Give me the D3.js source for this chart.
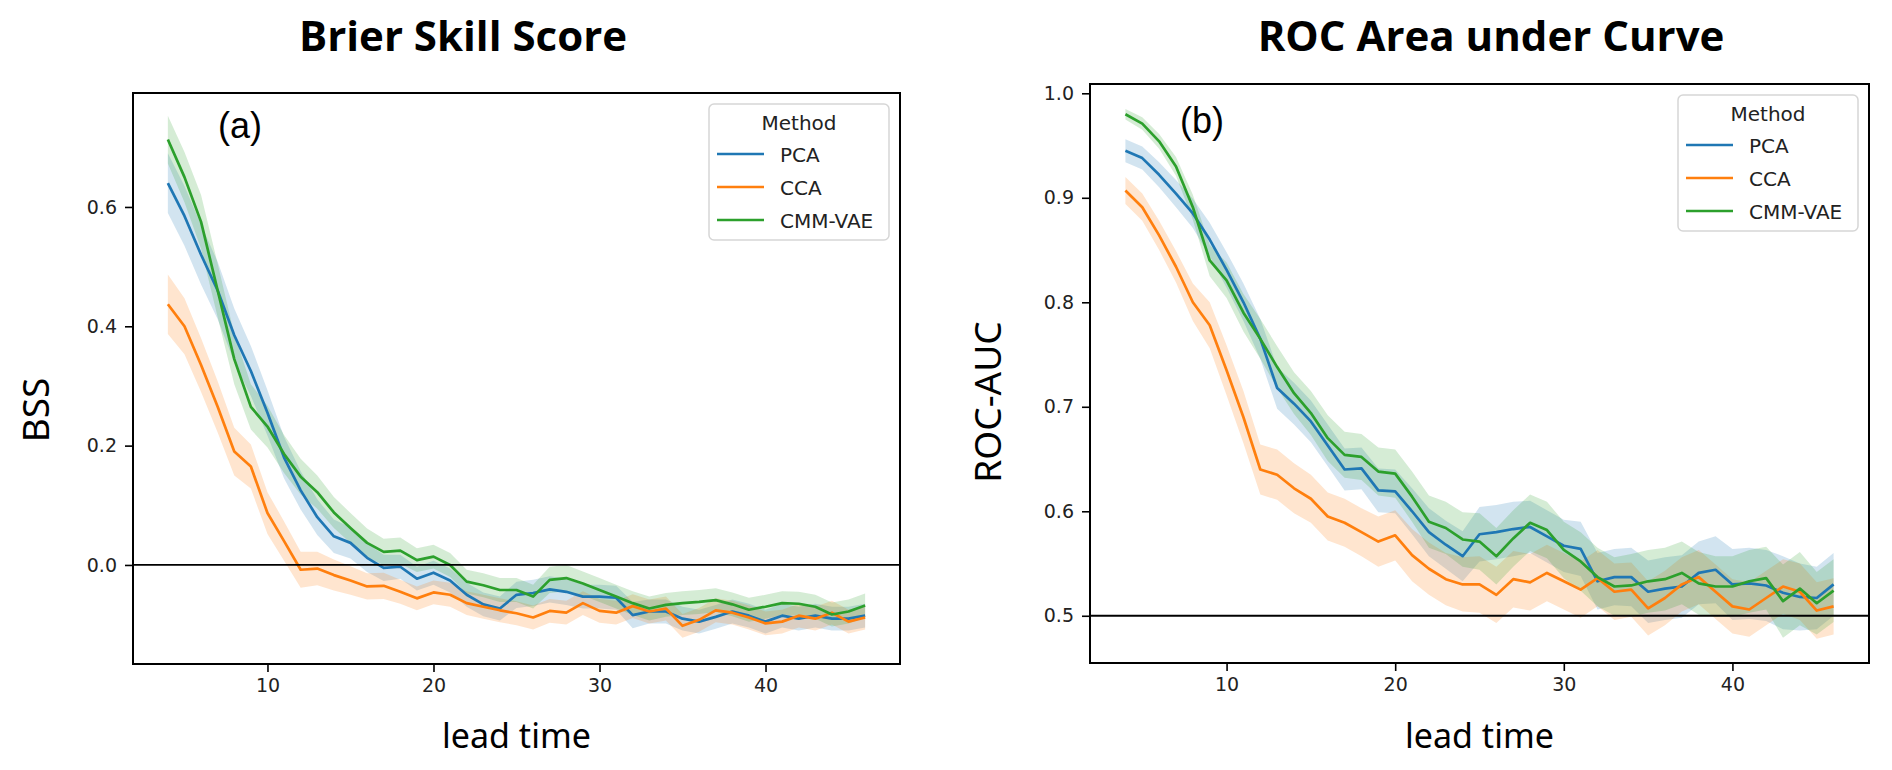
<!DOCTYPE html>
<html>
<head>
<meta charset="utf-8">
<script src="https://cdn.jsdelivr.net/npm/d3@7"></script>
<style>
  body { margin: 0; background: #fff; }
  svg { display: block; }
</style>
</head>
<body>
<div id="wrapper"></div>
<script>
// lead times (x categories)
const leadTimes = [4, 5, 6, 7, 8, 9, 10, 11, 12, 13, 14, 15, 16, 17, 18, 19, 20, 21, 22, 23, 24, 25,
  26, 27, 28, 29, 30, 31, 32, 33, 34, 35, 36, 37, 38, 39, 40, 41, 42, 43, 44, 45, 46];

const methods = ["PCA", "CCA", "CMM-VAE"];

// Brier skill score, mean per method
const bssPca = [0.64, 0.585, 0.52, 0.46, 0.385, 0.325, 0.255,
  0.18, 0.125, 0.08, 0.048, 0.037, 0.012, -0.005, -0.003, -0.023, -0.013,
  -0.026, -0.05, -0.066, -0.073, -0.05, -0.047, -0.041, -0.045, -0.053, -0.053,
  -0.055, -0.084, -0.078, -0.078, -0.09, -0.095, -0.087, -0.078, -0.085, -0.095,
  -0.085, -0.09, -0.085, -0.09, -0.09, -0.085];
const bssCca = [0.437, 0.40, 0.335, 0.265, 0.19, 0.165, 0.087,
  0.04, -0.008, -0.006, -0.017, -0.026, -0.036, -0.035, -0.045, -0.056, -0.046,
  -0.05, -0.064, -0.07, -0.076, -0.081, -0.088, -0.077, -0.08, -0.064, -0.077,
  -0.08, -0.069, -0.078, -0.073, -0.102, -0.092, -0.076, -0.08, -0.088, -0.098,
  -0.095, -0.085, -0.09, -0.08, -0.095, -0.088];
const bssVae = [0.713, 0.65, 0.575, 0.46, 0.345, 0.265, 0.232,
  0.186, 0.148, 0.122, 0.088, 0.062, 0.037, 0.022, 0.024, 0.008, 0.014,
  0.0, -0.028, -0.034, -0.042, -0.042, -0.053, -0.025, -0.022, -0.031, -0.042,
  -0.053, -0.064, -0.073, -0.067, -0.064, -0.062, -0.059, -0.066, -0.075, -0.07,
  -0.064, -0.065, -0.07, -0.083, -0.078, -0.068];

// BSS confidence band half widths
const bssPcaSpread = [0.05, 0.05, 0.05, 0.048, 0.045, 0.042, 0.038,
  0.035, 0.032, 0.03, 0.028, 0.026, 0.024, 0.022, 0.02, 0.02, 0.02,
  0.02, 0.02, 0.02, 0.02, 0.022, 0.022, 0.022, 0.022, 0.02, 0.02,
  0.02, 0.022, 0.02, 0.02, 0.02, 0.02, 0.02, 0.02, 0.02, 0.02,
  0.02, 0.02, 0.02, 0.02, 0.02, 0.02];
const bssCcaSpread = [0.05, 0.047, 0.045, 0.043, 0.04, 0.037, 0.035,
  0.033, 0.03, 0.028, 0.026, 0.024, 0.022, 0.022, 0.02, 0.02, 0.02,
  0.02, 0.02, 0.02, 0.02, 0.02, 0.02, 0.02, 0.02, 0.02, 0.02,
  0.02, 0.02, 0.02, 0.02, 0.02, 0.02, 0.02, 0.02, 0.02, 0.02,
  0.02, 0.02, 0.02, 0.02, 0.02, 0.02];
const bssVaeSpread = [0.04, 0.042, 0.045, 0.045, 0.042, 0.038, 0.035,
  0.032, 0.03, 0.028, 0.026, 0.025, 0.024, 0.022, 0.022, 0.02, 0.02,
  0.02, 0.02, 0.02, 0.02, 0.02, 0.02, 0.022, 0.022, 0.02, 0.02,
  0.02, 0.02, 0.02, 0.02, 0.02, 0.02, 0.02, 0.02, 0.02, 0.02,
  0.02, 0.02, 0.02, 0.02, 0.02, 0.02];

// ROC area under curve, mean per method
const rocPca = [0.945, 0.938, 0.922, 0.904, 0.885, 0.86, 0.831,
  0.80, 0.765, 0.718, 0.703, 0.686, 0.663, 0.64, 0.641, 0.62, 0.619,
  0.60, 0.58, 0.568, 0.557, 0.578, 0.58, 0.583, 0.585, 0.576, 0.567,
  0.564, 0.533, 0.537, 0.537, 0.523, 0.526, 0.528, 0.541, 0.544, 0.530,
  0.531, 0.529, 0.522, 0.518, 0.517, 0.530];
const rocCca = [0.907, 0.891, 0.864, 0.834, 0.80, 0.778, 0.735,
  0.69, 0.64, 0.635, 0.622, 0.612, 0.595, 0.589, 0.58, 0.571, 0.577,
  0.558, 0.545, 0.535, 0.53, 0.53, 0.52, 0.535, 0.532, 0.541, 0.533,
  0.525, 0.536, 0.523, 0.525, 0.507, 0.517, 0.53, 0.537, 0.523, 0.509,
  0.506, 0.517, 0.528, 0.523, 0.505, 0.509];
const rocVae = [0.98, 0.971, 0.954, 0.93, 0.891, 0.84, 0.821,
  0.79, 0.765, 0.738, 0.713, 0.694, 0.67, 0.654, 0.652, 0.638, 0.636,
  0.614, 0.59, 0.584, 0.573, 0.571, 0.557, 0.574, 0.589, 0.582, 0.563,
  0.552, 0.537, 0.528, 0.529, 0.533, 0.535, 0.541, 0.531, 0.528, 0.528,
  0.533, 0.536, 0.514, 0.526, 0.512, 0.524];

// ROC confidence band half widths
const rocPcaSpread = [0.011, 0.011, 0.012, 0.013, 0.014, 0.016, 0.017,
  0.018, 0.019, 0.02, 0.02, 0.02, 0.02, 0.02, 0.02, 0.021, 0.021,
  0.022, 0.023, 0.023, 0.024, 0.026, 0.026, 0.026, 0.025, 0.025, 0.025,
  0.026, 0.027, 0.027, 0.028, 0.03, 0.03, 0.03, 0.03, 0.032, 0.034,
  0.034, 0.034, 0.035, 0.032, 0.03, 0.03];
const rocCcaSpread = [0.013, 0.013, 0.014, 0.015, 0.018, 0.022, 0.024,
  0.025, 0.024, 0.024, 0.024, 0.023, 0.023, 0.023, 0.023, 0.024, 0.024,
  0.025, 0.025, 0.025, 0.026, 0.027, 0.027, 0.027, 0.027, 0.027, 0.027,
  0.027, 0.027, 0.027, 0.026, 0.026, 0.026, 0.026, 0.026, 0.026, 0.026,
  0.026, 0.026, 0.026, 0.027, 0.027, 0.027];
const rocVaeSpread = [0.005, 0.006, 0.007, 0.009, 0.012, 0.015, 0.017,
  0.018, 0.019, 0.02, 0.02, 0.021, 0.022, 0.022, 0.022, 0.023, 0.023,
  0.024, 0.025, 0.025, 0.026, 0.027, 0.027, 0.027, 0.027, 0.027, 0.027,
  0.028, 0.028, 0.028, 0.03, 0.03, 0.03, 0.03, 0.03, 0.029, 0.029,
  0.03, 0.03, 0.035, 0.035, 0.03, 0.03];

const bssTicks = [0.0, 0.2, 0.4, 0.6];
const rocTicks = [0.5, 0.6, 0.7, 0.8, 0.9, 1.0];
const xTicks = [10, 20, 30, 40];

const colors = ["#1f77b4", "#ff7f0e", "#2ca02c"];

const svg = d3.select("#wrapper").append("svg")
  .attr("width", 1892)
  .attr("height", 770);

svg.append("rect").attr("width", 1892).attr("height", 770).attr("fill", "#fff");

function buildPanel(opts) {
  const x = d3.scaleLinear().domain([1.9, 48.1]).range([opts.left, opts.right]);
  const y = d3.scaleLinear().domain(opts.yDomain).range([opts.bottom, opts.top]);

  const g = svg.append("g");

  // bands first, then lines
  opts.series.forEach((s, i) => {
    const rows = leadTimes.map((t, j) => ({ t, v: s.values[j], e: s.spread[j] }));
    g.append("path")
      .datum(rows)
      .attr("fill", colors[i])
      .attr("fill-opacity", 0.2)
      .attr("d", d3.area()
        .x(d => x(d.t))
        .y0(d => y(d.v - d.e))
        .y1(d => y(d.v + d.e)));
  });

  opts.series.forEach((s, i) => {
    const rows = leadTimes.map((t, j) => ({ t, v: s.values[j] }));
    g.append("path")
      .datum(rows)
      .attr("fill", "none")
      .attr("stroke", colors[i])
      .attr("stroke-width", 2.7)
      .attr("stroke-linejoin", "round")
      .attr("d", d3.line().x(d => x(d.t)).y(d => y(d.v)));
  });

  // reference line
  g.append("line")
    .attr("x1", opts.left).attr("x2", opts.right)
    .attr("y1", y(opts.refLine)).attr("y2", y(opts.refLine))
    .attr("stroke", "#000")
    .attr("stroke-width", 1.8);

  // axes
  const xAxis = g.append("g")
    .attr("transform", `translate(0,${opts.bottom})`)
    .call(d3.axisBottom(x).tickValues(xTicks).tickFormat(d3.format("d")).tickSize(8).tickPadding(7));
  const yAxis = g.append("g")
    .attr("transform", `translate(${opts.left},0)`)
    .call(d3.axisLeft(y).tickValues(opts.yTicks).tickFormat(d3.format(".1f")).tickSize(8).tickPadding(8));

  [xAxis, yAxis].forEach(a => {
    a.select(".domain").remove();
    a.selectAll("line").attr("stroke", "#000").attr("stroke-width", 1.6);
    a.selectAll("text")
      .attr("fill", "#222")
      .style("font-family", "DejaVu Sans")
      .style("font-size", "19px");
  });

  // frame
  g.append("rect")
    .attr("x", opts.left).attr("y", opts.top)
    .attr("width", opts.right - opts.left)
    .attr("height", opts.bottom - opts.top)
    .attr("fill", "none")
    .attr("stroke", "#000")
    .attr("stroke-width", 2);

  // panel letter
  g.append("text")
    .attr("x", opts.letterX).attr("y", opts.letterY)
    .attr("text-anchor", "middle")
    .style("font-family", "Liberation Sans")
    .style("font-size", "36px")
    .text(opts.letter);

  // legend
  const lg = g.append("g")
    .attr("transform", `translate(${opts.right - 11 - 180},${opts.top + 11})`);
  lg.append("rect")
    .attr("width", 180).attr("height", 136)
    .attr("rx", 5)
    .attr("fill", "#fff").attr("fill-opacity", 0.8)
    .attr("stroke", "#d6d6d6").attr("stroke-width", 1.5);
  lg.append("text")
    .attr("x", 90).attr("y", 26)
    .attr("text-anchor", "middle")
    .attr("fill", "#222")
    .style("font-family", "DejaVu Sans")
    .style("font-size", "20px")
    .text("Method");
  methods.forEach((m, i) => {
    const yy = 50 + i * 33;
    lg.append("line")
      .attr("x1", 8).attr("x2", 55)
      .attr("y1", yy).attr("y2", yy)
      .attr("stroke", colors[i]).attr("stroke-width", 2.7);
    lg.append("text")
      .attr("x", 71).attr("y", yy + 8)
      .attr("fill", "#222")
      .style("font-family", "DejaVu Sans")
      .style("font-size", "20px")
      .text(m);
  });

  // titles and labels
  svg.append("text")
    .attr("x", opts.titleX).attr("y", 51)
    .attr("text-anchor", "middle")
    .style("font-family", "Open Sans")
    .style("font-weight", "bold")
    .style("font-size", "42px")
    .text(opts.title);

  svg.append("text")
    .attr("x", (opts.left + opts.right) / 2).attr("y", 748)
    .attr("text-anchor", "middle")
    .style("font-family", "Noto Sans")
    .style("font-size", "34px")
    .text("lead time");

  svg.append("text")
    .attr("transform", `translate(${opts.yLabelX},${opts.yLabelY}) rotate(-90)`)
    .attr("text-anchor", "middle")
    .style("font-family", "Noto Sans")
    .style("font-size", "37px")
    .text(opts.yLabel);
}

buildPanel({
  left: 133, right: 900, top: 93, bottom: 664,
  yDomain: [-0.166, 0.791],
  yTicks: bssTicks,
  refLine: 0,
  series: [
    { values: bssPca, spread: bssPcaSpread },
    { values: bssCca, spread: bssCcaSpread },
    { values: bssVae, spread: bssVaeSpread },
  ],
  letter: "(a)", letterX: 240, letterY: 138,
  title: "Brier Skill Score", titleX: 463,
  yLabel: "BSS", yLabelX: 49, yLabelY: 410,
});

buildPanel({
  left: 1090, right: 1869, top: 84, bottom: 663,
  yDomain: [0.4548, 1.0089],
  yTicks: rocTicks,
  refLine: 0.5,
  series: [
    { values: rocPca, spread: rocPcaSpread },
    { values: rocCca, spread: rocCcaSpread },
    { values: rocVae, spread: rocVaeSpread },
  ],
  letter: "(b)", letterX: 1202, letterY: 133,
  title: "ROC Area under Curve", titleX: 1491,
  yLabel: "ROC-AUC", yLabelX: 1001, yLabelY: 402,
});
</script>
</body>
</html>
